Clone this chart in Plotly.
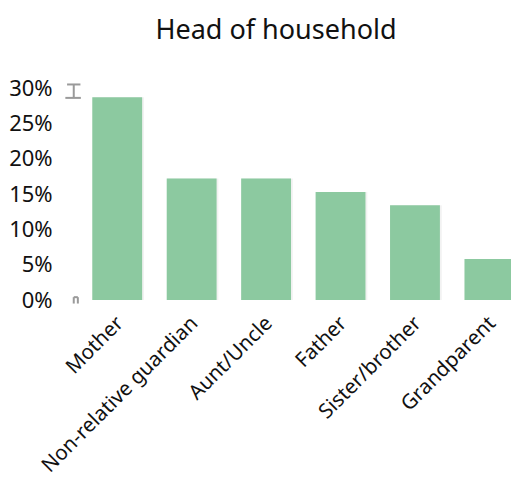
import plotly.graph_objects as go

categories = ["Mother", "Non-relative guardian", "Aunt/Uncle", "Father", "Sister/brother", "Grandparent"]
shares = [28.7, 17.2, 17.2, 15.3, 13.4, 5.8]
y_ticks = [0, 5, 10, 15, 20, 25, 30]
y_labels = [f"{v}%" for v in y_ticks]

BAR = "rgb(140,201,160)"
FONT = "Noto Sans"
Y_MAX = 30

fig = go.Figure()

# soft shadow under each bar
fig.add_trace(go.Bar(
    x=categories, y=shares, width=0.69, offset=-0.33,
    marker=dict(color="rgba(0,0,0,0.05)", line=dict(width=0)),
    hoverinfo="skip", showlegend=False,
))
fig.add_trace(go.Bar(
    x=categories, y=shares, width=0.67,
    marker=dict(color=BAR, line=dict(width=0)),
    showlegend=False,
))

# small axis end caps (paper coordinates so they are not clipped)
def py(v):
    return v / Y_MAX

cap = dict(type="line", xref="paper", yref="paper", line=dict(color="#9a9a9a", width=2))
fig.add_shape(**cap, x0=-0.0145, x1=-0.0145, y0=py(28.6), y1=py(30.5))
fig.add_shape(**cap, x0=-0.030, x1=0.001, y0=py(30.5), y1=py(30.5))
fig.add_shape(**cap, x0=-0.034, x1=0.002, y0=py(28.6), y1=py(28.6))
fig.add_shape(**cap, x0=-0.0145, x1=-0.0145, y0=py(-0.5), y1=py(0.4))
fig.add_shape(**cap, x0=-0.0050, x1=-0.0050, y0=py(-0.5), y1=py(0.4))
fig.add_shape(**cap, x0=-0.0145, x1=-0.0050, y0=py(0.4), y1=py(0.4))

fig.update_layout(
    width=511, height=477,
    margin=dict(l=80, r=0, t=88, b=177, autoexpand=False),
    paper_bgcolor="white", plot_bgcolor="white",
    barmode="overlay",
    font=dict(family=FONT, color="#111111"),
    title=dict(text="Head of household", x=276 / 511, xref="container", xanchor="center",
               y=1 - 30 / 477, yref="container", yanchor="middle",
               font=dict(size=27, family=FONT, color="#111111")),
    xaxis=dict(range=[-0.5, 5.29], tickangle=-45, showgrid=False, zeroline=False,
               showline=False, ticks="outside", ticklen=2, tickcolor="rgba(0,0,0,0)",
               automargin=False, tickfont=dict(size=20.5)),
    yaxis=dict(range=[0, Y_MAX], tickvals=y_ticks, ticktext=y_labels, showgrid=False,
               zeroline=False, showline=False, ticks="outside", ticklen=22,
               tickcolor="rgba(0,0,0,0)", tickfont=dict(size=22), automargin=False),
)

fig.write_html("out.html")
